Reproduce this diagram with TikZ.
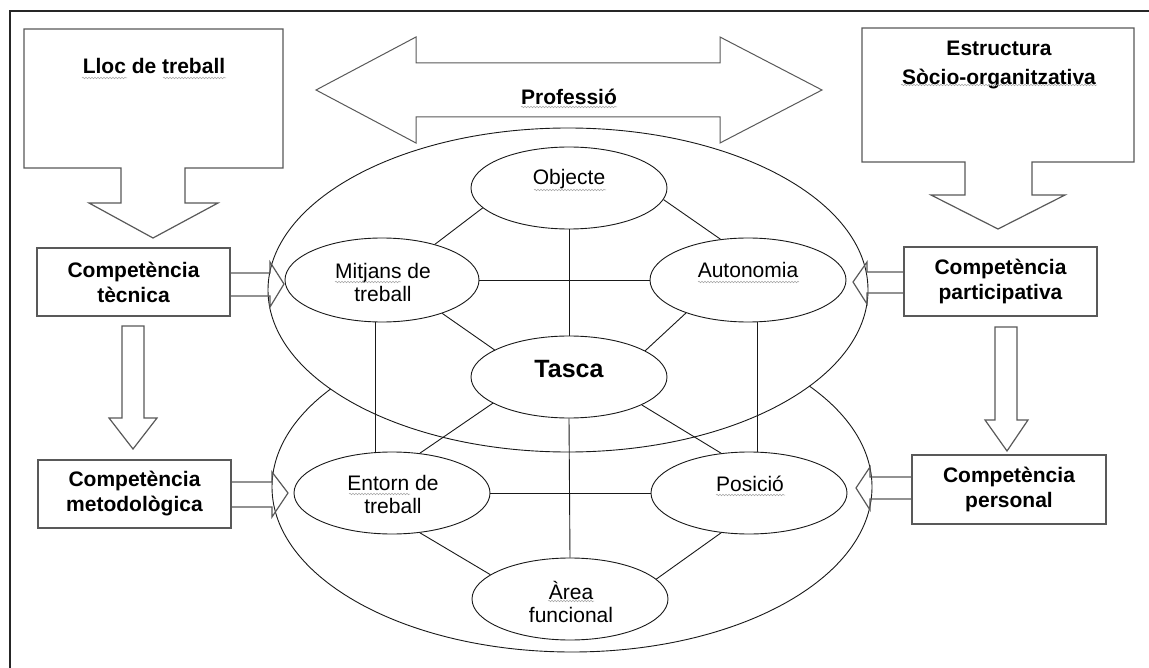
\documentclass[tikz,border=0pt]{standalone}
\usepackage{fontspec}
\setmainfont{Liberation Sans}
\usetikzlibrary{shapes.geometric,decorations.pathmorphing}

\newcommand\boldlbl{\fontsize{21}{25}\selectfont\bfseries}
\newcommand\plainlbl{\fontsize{21}{23}\selectfont}

\tikzset{
  frameline/.style={line width=2pt, black!85},
  outline/.style={draw=black!65, line width=1.2pt},
  compbox/.style={outline, fill=white, rectangle, minimum width=193pt,
    minimum height=68pt, inner sep=0pt, align=center, font=\boldlbl},
  bigoval/.style={ellipse, draw=black!90, line width=0.9pt, fill=white,
    minimum width=600pt, inner sep=0pt},
  oval/.style={ellipse, draw=black!90, line width=0.9pt, fill=white,
    minimum width=196pt, minimum height=82pt, inner sep=0pt},
  link/.style={draw=black!90, line width=0.9pt},
  word/.style={inner sep=0pt, align=center, font=\plainlbl},
  headword/.style={inner sep=0pt, align=center, font=\boldlbl},
  squig/.style={draw=black!35, line width=0.5pt,
    decorate, decoration={snake, amplitude=0.8pt, segment length=3pt}},
}

\begin{document}
\begin{tikzpicture}[x=1pt, y=-1pt]
\useasboundingbox (0,0) rectangle (1149,668);
\fill[white] (0,0) rectangle (1149,668);

% page frame: top and left edges only
\draw[frameline] (1149,11) -- (10,11) -- (10,668);

% callout boxes with downward arrows
\draw[outline, fill=white] (24,29) -- (283,29) -- (283,168) -- (185,168)
  -- (185,203) -- (218,203) -- (153,238) -- (89,203) -- (121,203)
  -- (121,168) -- (24,168) -- cycle;
\node[headword] (lloc) at (154,66) {Lloc de treball};

\draw[outline, fill=white] (862,28) -- (1134,28) -- (1134,162) -- (1032,162)
  -- (1032,195) -- (1065,195) -- (998,229) -- (931,195) -- (965,195)
  -- (965,162) -- (862,162) -- cycle;
\node[headword, font=\fontsize{21}{29}\selectfont\bfseries] (estr) at (999,65)
  {Estructura\\Sòcio-organitzativa};

% double arrow
\draw[outline, line width=1pt, fill=white] (316,90) -- (416,37) -- (416,63)
  -- (720,63) -- (720,37) -- (822,90) -- (720,143) -- (720,117)
  -- (416,117) -- (416,143) -- cycle;
\node[headword] (prof) at (569,97) {Professió};

% two large ovals
\node[bigoval, minimum height=330pt] (lower) at (572,487) {};
\node[bigoval, minimum height=324pt] (upper) at (568,290) {};

% small ovals
\node[oval] (obj) at (569,188) {};
\node[oval, minimum width=194pt, minimum height=84pt] (mit) at (382,280) {};
\node[oval, minimum height=84pt] (aut) at (748,280) {};
\node[oval] (tas) at (569,377) {};
\node[oval] (ent) at (392,493) {};
\node[oval] (pos) at (749,493) {};
\node[oval] (are) at (570,599) {};

% connections between the ovals
\draw[link] (obj.south) -- (tas.north);
\draw[link] (tas.south) -- (are.north);
\draw[link] (mit.east) -- (aut.west);
\draw[link] (ent.east) -- (pos.west);
\draw[link] (obj.193) -- (mit.34);
\draw[link] (obj.353) -- (aut.124);
\draw[link] (mit.331) -- (tas.160);
\draw[link] (aut.208) -- (tas.19);
\draw[link] (tas.199) -- (ent.55);
\draw[link] (tas.339) -- (pos.125);
\draw[link] (ent.305) -- (are.163);
\draw[link] (pos.235) -- (are.13);
\draw[link] ([xshift=-7pt]mit.south) -- ([xshift=-17pt]ent.north);
\draw[link] ([xshift=9pt]aut.south) -- ([xshift=8pt]pos.north);

% oval labels
\node[word] (tobj) at (569,179) {Objecte};
\node[word] (tmit) at (383,282) {Mitjans de\\treball};
\node[word] (taut) at (748,270) {Autonomia};
\node[word, font=\fontsize{25}{27}\selectfont\bfseries] (ttas) at (569,369) {Tasca};
\node[word] (tent) at (393,494) {Entorn de\\treball};
\node[word] (tpos) at (750,484) {Posició};
\node[word] (tare) at (571,602) {Àrea\\funcional};

% competence boxes
\node[compbox] (tec) at (133.5,282) {Competència\\tècnica};
\node[compbox] (met) at (134.5,494) {Competència\\metodològica};
\node[compbox, minimum height=69pt] (par) at (1000.5,281.5) {Competència\\participativa};
\node[compbox, minimum width=194pt, minimum height=69pt] (per) at (1009,489.5) {Competència\\personal};

% block arrows between boxes and ovals
\draw[outline, fill=white] (122,326) -- (144,326) -- (144,418) -- (157,418)
  -- (133,449) -- (109,418) -- (122,418) -- cycle;
\draw[outline, fill=white] (995,327) -- (1017,327) -- (1017,420) -- (1028,420)
  -- (1007,451) -- (985,420) -- (995,420) -- cycle;
\draw[outline] (tec.east |- 0,273) -- (270,273) -- (270,262) -- (284,284)
  -- (270,307) -- (270,296) -- (tec.east |- 0,296);
\draw[outline] (met.east |- 0,482) -- (272,482) -- (272,472) -- (288,493)
  -- (272,517) -- (272,507) -- (met.east |- 0,507);
\draw[outline] (par.west |- 0,272) -- (867,272) -- (867,262) -- (853,282)
  -- (867,304) -- (867,293) -- (par.west |- 0,293);
\draw[outline] (per.west |- 0,477) -- (870,477) -- (870,467) -- (856,488)
  -- (870,510) -- (870,499) -- (per.west |- 0,499);

% proofing underlines
\draw[squig] (82,78) -- (127,78);
\draw[squig] (163,78) -- (226,78);
\draw[squig] (901,85) -- (1097,85);
\draw[squig] (521,107) -- (617,107);
\draw[squig] (534,190) -- (606,190);
\draw[squig] (335,282) -- (401,282);
\draw[squig] (698,282) -- (799,282);
\draw[squig] (349,494) -- (410,494);
\draw[squig] (716,495) -- (785,495);
\draw[squig] (548,601) -- (594,601);
\end{tikzpicture}
\end{document}
